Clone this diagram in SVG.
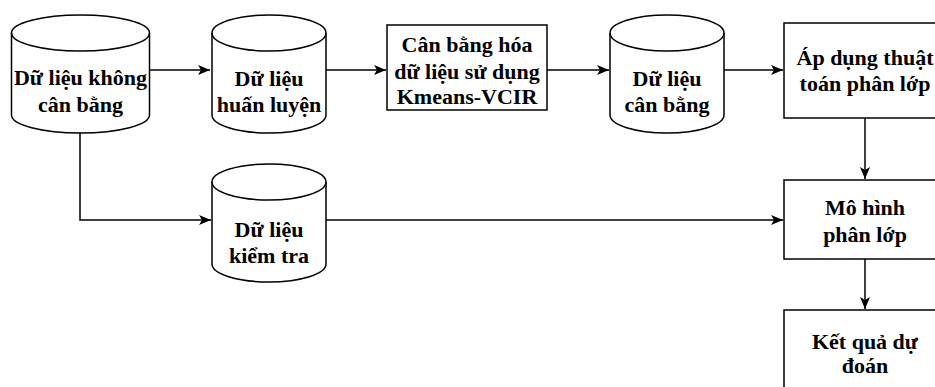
<svg xmlns="http://www.w3.org/2000/svg" width="935" height="387" viewBox="0 0 935 387">
<defs>
<style>
.s{fill:#fff;stroke:#000;stroke-width:1.5}
.e{fill:none;stroke:#000;stroke-width:1.5}
.c{fill:none;stroke:#000;stroke-width:1.5}
.t{font-family:'Liberation Serif','DejaVu Serif',serif;font-weight:700;font-size:22px;fill:#000;text-anchor:middle}
</style>
<marker id="a" markerUnits="userSpaceOnUse" markerWidth="14" markerHeight="12" refX="12" refY="6" orient="auto">
<path d="M0,1 L12,6 L0,11 L3,6 Z" fill="#000"/>
</marker>
</defs>
<g id="connectors">
<path class="c" d="M149.5,70 H210" marker-end="url(#a)"/>
<path class="c" d="M326,70 H386" marker-end="url(#a)"/>
<path class="c" d="M547,70 H609" marker-end="url(#a)"/>
<path class="c" d="M724,70 H783" marker-end="url(#a)"/>
<path class="c" d="M80,133 V220 H211" marker-end="url(#a)"/>
<path class="c" d="M326,220 H783" marker-end="url(#a)"/>
<path class="c" d="M865,118 V179" marker-end="url(#a)"/>
<path class="c" d="M865,259 V309" marker-end="url(#a)"/>
</g>
<g id="n1">
<path class="s" d="M11.5,33 a69,18 0 0 1 138,0 v82 a69,18 0 0 1 -138,0 Z"/>
<path class="e" d="M11.5,33 a69,18 0 0 0 138,0"/>
<text class="t" x="80.5" y="85">Dữ liệu không</text>
<text class="t" x="80.5" y="112">cân bằng</text>
</g>
<g id="n2">
<path class="s" d="M212,33 a57,18 0 0 1 114,0 v82 a57,18 0 0 1 -114,0 Z"/>
<path class="e" d="M212,33 a57,18 0 0 0 114,0"/>
<text class="t" x="269" y="86">Dữ liệu</text>
<text class="t" x="269" y="112">huấn luyện</text>
</g>
<g id="n3">
<rect class="s" x="387" y="25" width="160" height="85"/>
<text class="t" x="467" y="52">Cân bằng hóa</text>
<text class="t" x="467" y="79">dữ liệu sử dụng</text>
<text class="t" x="467" y="104">Kmeans-VCIR</text>
</g>
<g id="n4">
<path class="s" d="M610,33 a57,18 0 0 1 114,0 v82 a57,18 0 0 1 -114,0 Z"/>
<path class="e" d="M610,33 a57,18 0 0 0 114,0"/>
<text class="t" x="667" y="86">Dữ liệu</text>
<text class="t" x="667" y="112">cân bằng</text>
</g>
<g id="n5">
<rect class="s" x="784" y="23" width="162" height="95"/>
<text class="t" x="865" y="65">Áp dụng thuật</text>
<text class="t" x="865" y="91">toán phân lớp</text>
</g>
<g id="n6">
<path class="s" d="M212,182 a57,18 0 0 1 114,0 v82 a57,18 0 0 1 -114,0 Z"/>
<path class="e" d="M212,182 a57,18 0 0 0 114,0"/>
<text class="t" x="269" y="237">Dữ liệu</text>
<text class="t" x="269" y="263">kiểm tra</text>
</g>
<g id="n7">
<rect class="s" x="784" y="180" width="162" height="79"/>
<text class="t" x="865" y="215">Mô hình</text>
<text class="t" x="865" y="242">phân lớp</text>
</g>
<g id="n8">
<rect class="s" x="784" y="310" width="162" height="90"/>
<text class="t" x="865" y="349">Kết quả dự</text>
<text class="t" x="865" y="373">đoán</text>
</g>
</svg>
